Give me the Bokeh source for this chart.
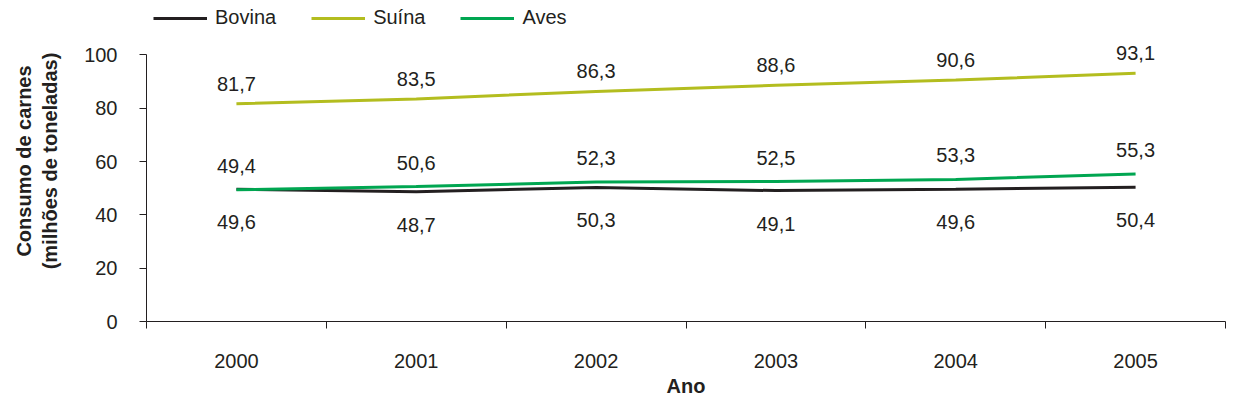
from bokeh.plotting import figure
from bokeh.models import (Range1d, FixedTicker, Legend, LegendItem,
                          ColumnDataSource)
from bokeh.core.properties import value
from bokeh.embed import file_html
from bokeh.resources import INLINE

# ---- data ----
years = ["2000", "2001", "2002", "2003", "2004", "2005"]
bovina = [49.6, 48.7, 50.3, 49.1, 49.6, 50.4]
suina = [81.7, 83.5, 86.3, 88.6, 90.6, 93.1]
aves = [49.4, 50.6, 52.3, 52.5, 53.3, 55.3]
y_ticks = [0, 20, 40, 60, 80, 100]

FONT = "Liberation Sans"
TXT = "#231f20"
C_BOV = "#231f20"
C_SUI = "#b3bd1f"
C_AVE = "#00a651"

xpos = [i + 0.5 for i in range(len(years))]

p = figure(width=1226, height=399, output_backend="svg", toolbar_location=None,
           x_range=Range1d(0, len(years)), y_range=Range1d(0, 120.4),
           min_border_left=146, min_border_right=1, min_border_top=0,
           min_border_bottom=74)
p.outline_line_color = None
p.xgrid.visible = False
p.ygrid.visible = False
p.background_fill_color = "white"
p.border_fill_color = "white"

def fmt(v):
    return f"{v:.1f}".replace(".", ",")

r_bov = p.line(xpos, bovina, line_color=C_BOV, line_width=3)
r_sui = p.line(xpos, suina, line_color=C_SUI, line_width=3)
r_ave = p.line(xpos, aves, line_color=C_AVE, line_width=3)

for vals, off in ((suina, -20), (aves, -24), (bovina, 33)):
    src = ColumnDataSource(dict(x=xpos, y=vals, t=[fmt(v) for v in vals]))
    p.text(x="x", y="y", text="t", source=src, y_offset=off,
           text_align="center", text_baseline="middle",
           text_font=value(FONT), text_font_size="20px", text_color=TXT)

# x axis: labels at centers, ticks at category boundaries
xa = p.xaxis[0]
xa.ticker = FixedTicker(ticks=xpos, minor_ticks=list(range(len(years) + 1)))
xa.major_label_overrides = {x: y for x, y in zip(xpos, years)}
xa.major_tick_out = 0
xa.major_tick_in = 0
xa.minor_tick_out = 7
xa.minor_tick_in = 0
xa.minor_tick_line_color = TXT
xa.axis_line_color = TXT
xa.major_label_standoff = 25
xa.major_label_text_font = FONT
xa.major_label_text_font_size = "20px"
xa.major_label_text_color = TXT
xa.axis_label = "Ano"
xa.axis_label_text_font = FONT
xa.axis_label_text_font_size = "20px"
xa.axis_label_text_font_style = "bold"
xa.axis_label_text_color = TXT
xa.axis_label_standoff = 4

ya = p.yaxis[0]
ya.ticker = FixedTicker(ticks=y_ticks, minor_ticks=[])
ya.bounds = (0, 100)
ya.major_tick_out = 7
ya.major_tick_in = 0
ya.major_tick_line_color = TXT
ya.axis_line_color = TXT
ya.major_label_standoff = 22
ya.major_label_text_font = FONT
ya.major_label_text_font_size = "20px"
ya.major_label_text_color = TXT
ya.axis_label = "Consumo de carnes\n(milhões de toneladas)"
ya.axis_label_text_font = FONT
ya.axis_label_text_font_size = "20px"
ya.axis_label_text_font_style = "bold"
ya.axis_label_text_color = TXT
ya.axis_label_standoff = 20

legend = Legend(items=[LegendItem(label="Bovina", renderers=[r_bov]),
                       LegendItem(label="Suína", renderers=[r_sui]),
                       LegendItem(label="Aves", renderers=[r_ave])],
                orientation="horizontal", location=(7, 292),
                glyph_width=54, glyph_height=20, label_standoff=8, spacing=35,
                padding=0, margin=0, border_line_color=None,
                background_fill_alpha=0,
                label_text_font=FONT, label_text_font_size="20px",
                label_text_color=TXT)
p.add_layout(legend, "center")

open("out.html", "w").write(file_html(p, INLINE))
